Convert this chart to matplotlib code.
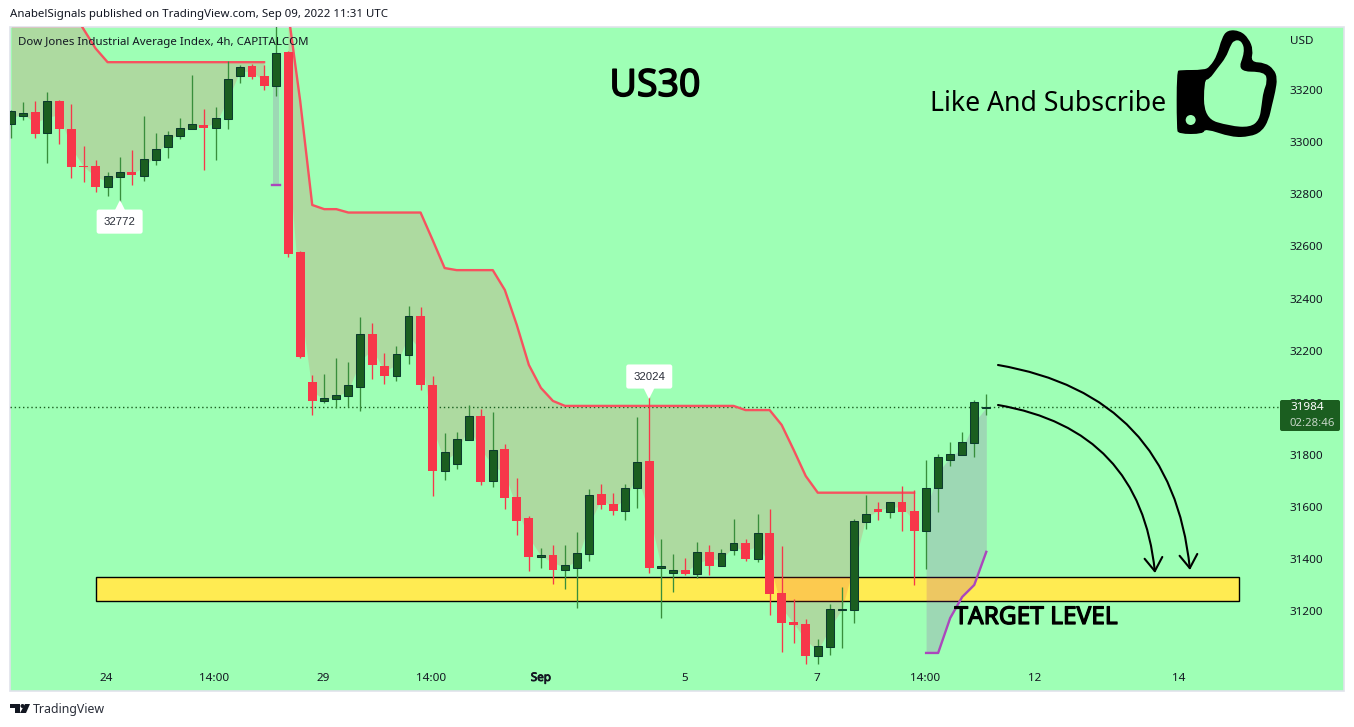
import numpy as np
import matplotlib
matplotlib.use("Agg")
import matplotlib.pyplot as plt
import matplotlib.patheffects as pe
from matplotlib.patches import PathPatch, Rectangle, FancyBboxPatch, FancyArrowPatch, Polygon, Circle
from matplotlib.path import Path
from matplotlib.transforms import IdentityTransform, offset_copy

# 4h candles
opens = [33071, 33102, 33116, 33036, 33158, 33050, 32909, 32908, 32828, 32867,
         32885, 32871, 32931, 32982, 33024, 33051, 33065, 33055, 33090, 33255,
         33292, 33253, 33215, 33345, 32578, 32080, 32008, 32016, 32027, 32062,
         32264, 32141, 32104, 32185, 32333, 32068, 31740, 31766, 31858, 31949,
         31701, 31823, 31638, 31558, 31408, 31416, 31360, 31367, 31421, 31650,
         31612, 31586, 31674, 31777, 31366, 31347, 31358, 31344, 31427, 31375,
         31436, 31462, 31402, 31500, 31270, 31159, 31151, 31030, 31064, 31206,
         31206, 31544, 31592, 31582, 31619, 31585, 31509, 31674, 31782, 31801,
         31847, 31980]
highs = [33123, 33154, 33158, 33192, 33160, 33146, 32985, 32931, 32885, 32943,
         32970, 33100, 33035, 33042, 33092, 33257, 33127, 33134, 33311, 33296,
         33299, 33296, 33450, 33350, 32582, 32107, 32110, 32172, 32156, 32329,
         32306, 32191, 32218, 32371, 32367, 32103, 31884, 31888, 31991, 31976,
         31965, 31842, 31711, 31566, 31443, 31454, 31454, 31504, 31669, 31688,
         31654, 31688, 31945, 32024, 31477, 31420, 31404, 31466, 31454, 31439,
         31554, 31477, 31573, 31592, 31450, 31247, 31170, 31094, 31228, 31293,
         31554, 31646, 31619, 31618, 31681, 31665, 31780, 31803, 31849, 31888,
         32011, 32034]
lows = [33016, 33085, 33016, 32920, 32993, 32862, 32847, 32808, 32793, 32772,
        32835, 32851, 32912, 32939, 33012, 33051, 32893, 32931, 33050, 33227,
        33242, 33200, 33177, 32560, 32170, 31953, 31999, 31980, 31984, 31968,
        32091, 32072, 32084, 32149, 32049, 31642, 31704, 31746, 31858, 31684,
        31677, 31592, 31493, 31355, 31366, 31305, 31286, 31213, 31393, 31592,
        31569, 31550, 31596, 31347, 31174, 31274, 31341, 31328, 31339, 31375,
        31416, 31393, 31389, 31186, 31044, 31078, 30998, 30998, 31032, 31059,
        31155, 31516, 31550, 31558, 31508, 31301, 31362, 31581, 31757, 31801,
        31792, 31953]
closes = [33119, 33112, 33031, 33158, 33050, 32904, 32904, 32828, 32869, 32884,
          32874, 32934, 32972, 33026, 33053, 33068, 33054, 33091, 33241, 33290,
          33250, 33215, 33344, 32571, 32176, 32007, 32018, 32030, 32067, 32263,
          32145, 32103, 32186, 32332, 32068, 31738, 31810, 31860, 31948, 31696,
          31817, 31635, 31546, 31408, 31416, 31358, 31376, 31422, 31645, 31608,
          31585, 31672, 31771, 31366, 31374, 31358, 31343, 31426, 31374, 31422,
          31461, 31401, 31499, 31266, 31155, 31147, 31028, 31066, 31208, 31209,
          31545, 31572, 31581, 31618, 31581, 31508, 31672, 31791, 31802, 31848,
          32002, 31984]

# supertrend bands, one segment per trend
upper_a_bars = list(range(0, 22))
upper_a = [33520, 33520, 33520, 33520, 33520, 33507, 33434, 33360, 33307, 33307, 33307,
           33307, 33307, 33307, 33307, 33307, 33307, 33307, 33307, 33307, 33307, 33307]
upper_b_bars = list(range(23, 76))
upper_b = [33500, 33158, 32759, 32743, 32743, 32730, 32730, 32730, 32730, 32730, 32730,
           32730, 32625, 32517, 32509, 32509, 32509, 32509, 32433, 32298, 32145, 32057,
           32007, 31988, 31988, 31988, 31988, 31988, 31988, 31988, 31988, 31988, 31988,
           31988, 31988, 31988, 31988, 31988, 31972, 31972, 31972, 31915, 31819, 31719,
           31655, 31655, 31655, 31655, 31655, 31655, 31655, 31655, 31655]
lower_bars = [76, 77, 78, 79, 80, 81]
lower = [31040, 31040, 31174, 31255, 31301, 31428]
lower_short_bar = 22
lower_short = 32836

zone_bars = (7, 102)
zone_prices = (31240, 31332)
last_price = 31984

price_ticks = [33200, 33000, 32800, 32600, 32400, 32200, 32000, 31800, 31600, 31400, 31200]
time_tick_bars = [7.9, 16.85, 25.9, 34.9, 44, 55.95, 66.95, 75.95, 85, 97]
time_tick_labels = ["24", "14:00", "29", "14:00", "Sep", "5", "7", "14:00", "12", "14"]

W, H = 1354, 727
BG = "#9effb5"
UP = "#1b5e20"
UP_EDGE = "#0c3b2e"
UP_WICK = "#388e3c"
DOWN = "#f7374a"
RED_LINE = "#f7525f"
PURPLE = "#ab47bc"
TEXT = "#131722"
FONT = "Noto Sans"

plt.rcParams["font.family"] = FONT


def px(x, y):
    # picture pixels (origin top left) to figure pixels
    return x, H - y


def fig_text(x, y, s, **kw):
    return fig.text(x / W, 1 - y / H, s, **kw)


def fig_patch(p):
    p.set_transform(IdentityTransform())
    p.set_figure(fig)
    fig.patches.append(p)


def smooth_loop(pts):
    # closed outline through the midpoints, the traced points act as curve controls
    pts = np.array(pts, dtype=float)
    mids = (pts + np.roll(pts, -1, axis=0)) / 2
    verts = [mids[-1]]
    codes = [Path.MOVETO]
    for ctrl, end in zip(pts, mids):
        verts += [ctrl, end]
        codes += [Path.CURVE3, Path.CURVE3]
    verts.append(mids[-1])
    codes.append(Path.CLOSEPOLY)
    return verts, codes


fig = plt.figure(figsize=(W / 100, H / 100), dpi=100, facecolor="white")

# green pane incl. the price scale part, behind the axes
fig_patch(Rectangle((10, H - 691), 1334, 664, facecolor=BG, edgecolor="#e0e3eb", linewidth=1.2, zorder=-5))

ax = fig.add_axes([10 / W, 1 - 691 / H, 1270 / W, 664 / H])
ax.patch.set_alpha(0)
for s in ax.spines.values():
    s.set_visible(False)
ax.set_xlim(-0.108, 105.4)
ax.set_ylim(30894, 33442)

o, h, l, c = map(np.array, (opens, highs, lows, closes))
bars = np.arange(len(o))
mid = (o + c) / 2
is_up = c >= o

# target zone
ax.add_patch(Rectangle((zone_bars[0], zone_prices[0]), zone_bars[1] - zone_bars[0],
                       zone_prices[1] - zone_prices[0], facecolor="#ffeb52",
                       edgecolor="black", linewidth=1.0, zorder=1))

# band fills
ax.fill_between(upper_a_bars, upper_a, mid[upper_a_bars], color="#f23645", alpha=0.18, lw=0, zorder=2)
ax.fill_between(upper_b_bars, upper_b, mid[upper_b_bars], color="#f23645", alpha=0.18, lw=0, zorder=2)
ax.fill_between(lower_bars, lower, mid[lower_bars], color="#9c27b0", alpha=0.18, lw=0, zorder=2)
ax.fill_between([lower_short_bar - 0.25, lower_short_bar + 0.25], lower_short, mid[lower_short_bar],
                color="#9c27b0", alpha=0.18, lw=0, zorder=2)

ax.axhline(last_price, color=UP, lw=1, ls=(0, (1, 2)), zorder=2.5)

ax.plot(upper_a_bars, upper_a, color=RED_LINE, lw=1.7, zorder=3)
ax.plot(upper_b_bars, upper_b, color=RED_LINE, lw=1.7, zorder=3)
ax.plot(lower_bars, lower, color=PURPLE, lw=1.7, zorder=3)
ax.plot([lower_short_bar - 0.35, lower_short_bar + 0.35], [lower_short, lower_short],
        color=PURPLE, lw=1.7, zorder=3)

# candles
ax.vlines(bars[is_up], l[is_up], h[is_up], color=UP_WICK, lw=0.95, zorder=4)
ax.vlines(bars[~is_up], l[~is_up], h[~is_up], color=DOWN, lw=0.95, zorder=4)
ax.bar(bars[is_up], (c - o)[is_up], bottom=o[is_up], width=0.66, color=UP,
       edgecolor=UP_EDGE, linewidth=0.75, zorder=5)
ax.bar(bars[~is_up], (o - c)[~is_up], bottom=c[~is_up], width=0.74, color=DOWN,
       linewidth=0, zorder=5)

# hi / lo labels
for bar, price, dy_box, marker, dy_mark in [(9, lows[9], -20, "^", -6), (53, highs[53], 20, "v", 6)]:
    ax.plot(bar, price, marker=marker, ms=12, color="white", mew=0, zorder=7,
            transform=offset_copy(ax.transData, fig=fig, x=0, y=dy_mark, units="dots"))
    ax.annotate(str(price), xy=(bar, price), xytext=(0, dy_box), textcoords="offset pixels",
                ha="center", va="center", fontsize=8.2, color="#2a2e39", family="Liberation Sans",
                bbox=dict(boxstyle="round,pad=0.62,rounding_size=0.2", fc="white", ec="none"), zorder=8)

# axes ticks
ax.yaxis.tick_right()
ax.set_yticks(price_ticks)
ax.set_yticklabels([str(p) for p in price_ticks], fontsize=8.4, color=TEXT)
ax.set_xticks(time_tick_bars)
ax.set_xticklabels(time_tick_labels, fontsize=8.4, color=TEXT)
ax.tick_params(axis="both", length=0)
ax.tick_params(axis="y", pad=7)
ax.tick_params(axis="x", direction="in", pad=-13)
for lab in ax.get_xticklabels():
    if lab.get_text() == "Sep":
        lab.set_path_effects([pe.withStroke(linewidth=0.6, foreground=TEXT)])

# last price tag, sits on top of the 32000 label
fig_patch(FancyBboxPatch((1281, H - 430), 58, 29, boxstyle="round,pad=1,rounding_size=2",
                         facecolor=UP, edgecolor="none", zorder=5))
fig_text(1290, 408, str(last_price), fontsize=8.4, color="white", va="center", zorder=6)
fig_text(1290, 423, "02:28:46", fontsize=8.2, color="#c5d5c6", va="center", zorder=6)
fig_text(1290, 41, "USD", fontsize=8.4, color=TEXT, va="center")

# headers
fig_text(10, 15, "AnabelSignals published on TradingView.com, Sep 09, 2022 11:31 UTC",
         fontsize=8.25, color=TEXT, va="center")
fig_text(18, 42, "Dow Jones Industrial Average Index, 4h, CAPITALCOM",
         fontsize=8.25, color=TEXT, va="center", zorder=9)
fig_text(33, 709, "TradingView", fontsize=8.9, color="#2a2e39", va="center")

# drawings on the chart, the stroke stands in for the heavier weight
fig_text(655, 86, "US30", fontsize=27, color="black", ha="center", va="center", zorder=9,
         path_effects=[pe.withStroke(linewidth=1.1, foreground="black")])
fig_text(1048, 104, "Like And Subscribe", fontsize=19.2, color="black", ha="center", va="center", zorder=9)
fig_text(1036, 618, "TARGET LEVEL", fontsize=17.6, color="black", ha="center", va="center", zorder=9,
         path_effects=[pe.withStroke(linewidth=0.9, foreground="black")])

# arrows
for start, end, rad in [((998, 365), (1190, 570), -0.38), ((998, 405), (1155, 573), -0.38)]:
    fig_patch(FancyArrowPatch(
        px(*start), px(*end), connectionstyle=f"arc3,rad={rad}",
        arrowstyle="->,head_length=6,head_width=4", mutation_scale=1.6,
        color="black", lw=1.5, shrinkA=0, shrinkB=0, zorder=8))

# thumbs up icon, outline traced in pixels
outer = [(222, 150), (240, 140), (262, 105), (275, 55), (292, 30), (330, 32), (356, 55), (370, 90), (362, 126),
         (405, 128), (432, 148), (442, 175), (436, 215), (426, 255), (416, 300), (395, 335), (360, 350), (305, 352),
         (225, 325), (220, 342), (145, 342), (140, 325), (140, 154), (150, 150)]
inner = [(222, 180), (222, 295), (300, 318), (360, 322), (388, 300), (395, 255), (400, 215), (412, 185), (405, 155),
         (322, 155), (345, 95), (335, 62), (312, 60), (300, 80), (288, 112), (262, 145), (238, 178)]
to_px = lambda pts: [px(1130 + a / 3, 20 + b / 3) for a, b in pts]
v_out, c_out = smooth_loop(to_px(outer))
v_in, c_in = smooth_loop(to_px(inner))
fig_patch(PathPatch(Path(v_out + v_in, c_out + c_in), facecolor="black", edgecolor="none", zorder=8))
fig_patch(Circle(px(1130 + 182 / 3, 20 + 300 / 3), 5, facecolor=BG, edgecolor="none", zorder=9))

# TradingView logo
for pts in [[(10, 704), (20, 704), (20, 713), (15, 713), (15, 708), (10, 708)],
            [(25, 704), (30, 704), (26, 713), (20, 713)]]:
    fig_patch(Polygon([px(*p) for p in pts], facecolor="#131722", edgecolor="none"))
fig_patch(Circle(px(22.5, 706), 2, facecolor="#131722", edgecolor="none"))

fig.savefig("out.png", dpi=100)
